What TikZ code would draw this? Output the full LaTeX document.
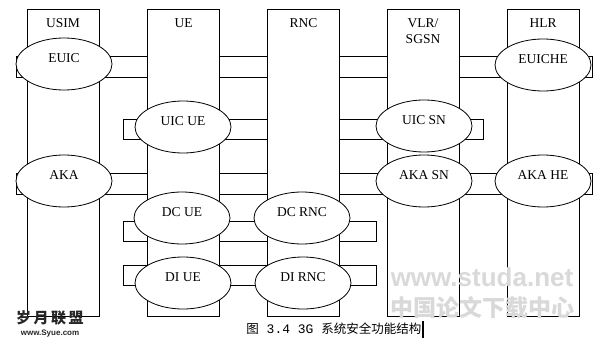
\documentclass[tikz,border=0pt]{standalone}
\usepackage{fontspec}
\setmainfont{Liberation Serif}
\newfontfamily\cjk{Noto Sans CJK SC}
\newfontfamily\wmsans{Liberation Sans}
\newfontfamily\capmono{Liberation Mono}
\usetikzlibrary{shapes.geometric}
\begin{document}
\begin{tikzpicture}[x=1pt,y=-1pt,line width=0.8pt,
  colbox/.style={draw,fill=white,minimum width=72pt,minimum height=307pt,inner sep=0pt},
  bandbox/.style={draw},
  ell/.style={draw,fill=white,ellipse,minimum width=96pt,minimum height=52pt,inner sep=0pt},
  lbl/.style={font=\fontsize{13.5}{15}\selectfont,inner sep=0pt},
  captxt/.style={font=\cjk\fontsize{12.5}{14}\selectfont,inner sep=0pt}]
\useasboundingbox (0,0) rectangle (602,345);
% bands (drawn first, hidden inside the columns)
\draw[bandbox] (16,56) rectangle (592,77);
\draw[bandbox] (123,119) rectangle (483,139);
\draw[bandbox] (16,173) rectangle (592,194);
\draw[bandbox] (123,221) rectangle (376,241);
\draw[bandbox] (123,265) rectangle (376,285);
% columns
\node[colbox] (usim) at (63,162.5) {};
\node[colbox] (ue) at (183.5,162.5) {};
\node[colbox] (rnc) at (303.5,162.5) {};
\node[colbox] (vlr) at (423,162.5) {};
\node[colbox] (hlr) at (543,162.5) {};
\node[lbl] (tusim) at (63,23) {USIM};
\node[lbl] (tue) at (183.5,23) {UE};
\node[lbl] (trnc) at (303.5,23) {RNC};
\node[lbl,align=center,font=\fontsize{13.5}{16}\selectfont] (tvlr) at (423,31) {VLR/\\SGSN};
\node[lbl] (thlr) at (543,23) {HLR};
% ellipses
\node[ell] (euic) at (64,64) {};
\node[lbl] at ([yshift=6pt]euic.center) {EUIC};
\node[ell] (euiche) at (543,65) {};
\node[lbl] at ([yshift=6pt]euiche.center) {EUICHE};
\node[ell] (uicue) at (183,127) {};
\node[lbl] at ([yshift=6pt]uicue.center) {UIC UE};
\node[ell] (uicsn) at (424,126) {};
\node[lbl] at ([yshift=6pt]uicsn.center) {UIC SN};
\node[ell] (aka) at (64,181) {};
\node[lbl] at ([yshift=6pt]aka.center) {AKA};
\node[ell] (akasn) at (424,181) {};
\node[lbl] at ([yshift=6pt]akasn.center) {AKA SN};
\node[ell] (akahe) at (543,181) {};
\node[lbl] at ([yshift=6pt]akahe.center) {AKA HE};
\node[ell] (dcue) at (182,218) {};
\node[lbl] at ([yshift=6pt]dcue.center) {DC UE};
\node[ell] (dcrnc) at (302,218) {};
\node[lbl] at ([yshift=6pt]dcrnc.center) {DC RNC};
\node[ell] (diue) at (183,283) {};
\node[lbl] at ([yshift=6pt]diue.center) {DI UE};
\node[ell] (dirnc) at (303,283) {};
\node[lbl] at ([yshift=6pt]dirnc.center) {DI RNC};
% caption
\node[captxt,anchor=west] (caption) at (246,329) {图{\capmono\fontsize{13}{14}\selectfont{} 3.4 3G }系统安全功能结构};
\draw[line width=1.6pt] ([xshift=1.5pt]caption.east |- 0,321) -- ([xshift=1.5pt]caption.east |- 0,338);
% watermarks
\node[font=\cjk\bfseries\fontsize{15}{16}\selectfont,inner sep=0pt,text=black!85] (wm1) at (50,318) {岁\,月\,联\,盟};
\node[font=\wmsans\bfseries\fontsize{8}{9}\selectfont,inner sep=0pt,text=black!85] (wm2) at (50,334) {www.Syue.com};
\node[font=\wmsans\bfseries\fontsize{26}{28}\selectfont,inner sep=0pt,text=gray!30] (wm3) at (482,277) {www.studa.net};
\node[font=\cjk\bfseries\fontsize{23}{25}\selectfont,inner sep=0pt,text=gray!30] (wm4) at (482,308) {中国论文下载中心};
\end{tikzpicture}
\end{document}
